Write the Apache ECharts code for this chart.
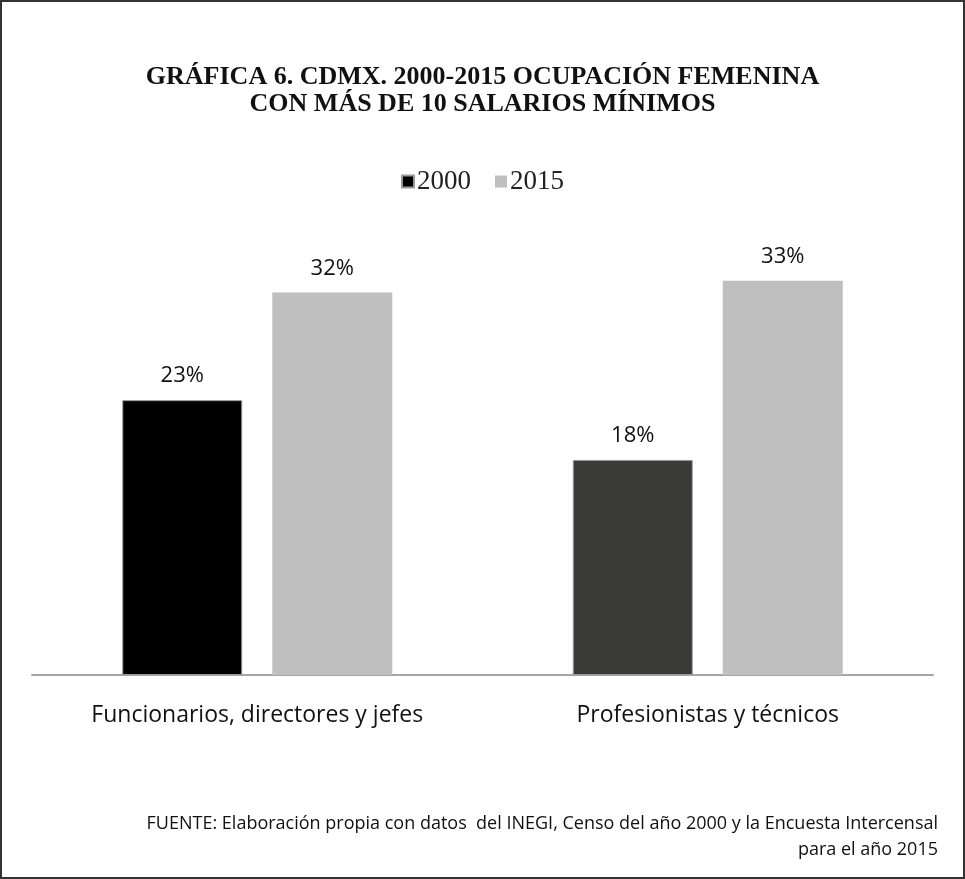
<!DOCTYPE html>
<html>
<head>
<meta charset="utf-8">
<script src="https://cdn.jsdelivr.net/npm/echarts@6/dist/echarts.min.js"></script>
<style>
  html, body { margin: 0; padding: 0; background: #fff; }
  #chart {
    width: 965px;
    height: 879px;
    box-sizing: border-box;
    border: 2px solid #333;
  }
</style>
</head>
<body>
<div id="chart"></div>
<script>
const categories = ["Funcionarios, directores y jefes", "Profesionistas y técnicos"];
const values2000 = [23, 18];
const values2015 = [32, 33];
const colors2000 = ["#000000", "#3a3a38"];

const chart = echarts.init(document.getElementById("chart"));

const labelStyle = {
  show: true,
  position: "top",
  distance: 13,
  formatter: "{c}%",
  fontFamily: "Open Sans",
  fontSize: 22,
  color: "#111",
};

chart.setOption({
  animation: false,
  title: {
    text: "GRÁFICA 6. CDMX. 2000-2015 OCUPACIÓN FEMENINA\nCON MÁS DE 10 SALARIOS MÍNIMOS",
    left: "center",
    top: 57,
    textStyle: {
      fontFamily: "Liberation Serif",
      fontWeight: "bold",
      fontSize: 26,
      lineHeight: 27,
      color: "#111",
    },
  },
  graphic: [
    {
      type: "text",
      x: 936,
      y: 809,
      style: {
        text: "FUENTE: Elaboración propia con datos  del INEGI, Censo del año 2000 y la Encuesta Intercensal\npara el año 2015",
        align: "right",
        fontFamily: "Open Sans",
        fontSize: 18,
        lineHeight: 26,
        fill: "#111",
      },
    },
  ],
  legend: {
    top: 161,
    left: "center",
    itemWidth: 12,
    itemHeight: 12,
    itemGap: 24,
    icon: "rect",
    textStyle: {
      fontFamily: "Liberation Serif",
      fontSize: 27,
      color: "#222",
      padding: [0, 0, 0, -2],
    },
    data: ["2000", "2015"],
  },
  grid: {
    left: 30,
    right: 30,
    top: 195,
    bottom: 202,
  },
  xAxis: {
    type: "category",
    data: categories,
    axisTick: { show: false },
    axisLine: { lineStyle: { color: "#a6a6a6", width: 2 } },
    axisLabel: {
      margin: 29,
      fontFamily: "Open Sans",
      fontSize: 23,
      color: "#111",
    },
  },
  yAxis: {
    type: "value",
    min: 0,
    max: 40,
    show: false,
    splitLine: { show: false },
  },
  series: [
    {
      name: "2000",
      type: "bar",
      barWidth: 120,
      barGap: "25%",
      itemStyle: { color: "#000", borderColor: "#9a9a9a", borderWidth: 1 },
      data: values2000.map((v, i) => ({ value: v, itemStyle: { color: colors2000[i] } })),
      label: labelStyle,
    },
    {
      name: "2015",
      type: "bar",
      barWidth: 120,
      itemStyle: { color: "#bfbfbf" },
      data: values2015,
      label: labelStyle,
    },
  ],
});
</script>
</body>
</html>
